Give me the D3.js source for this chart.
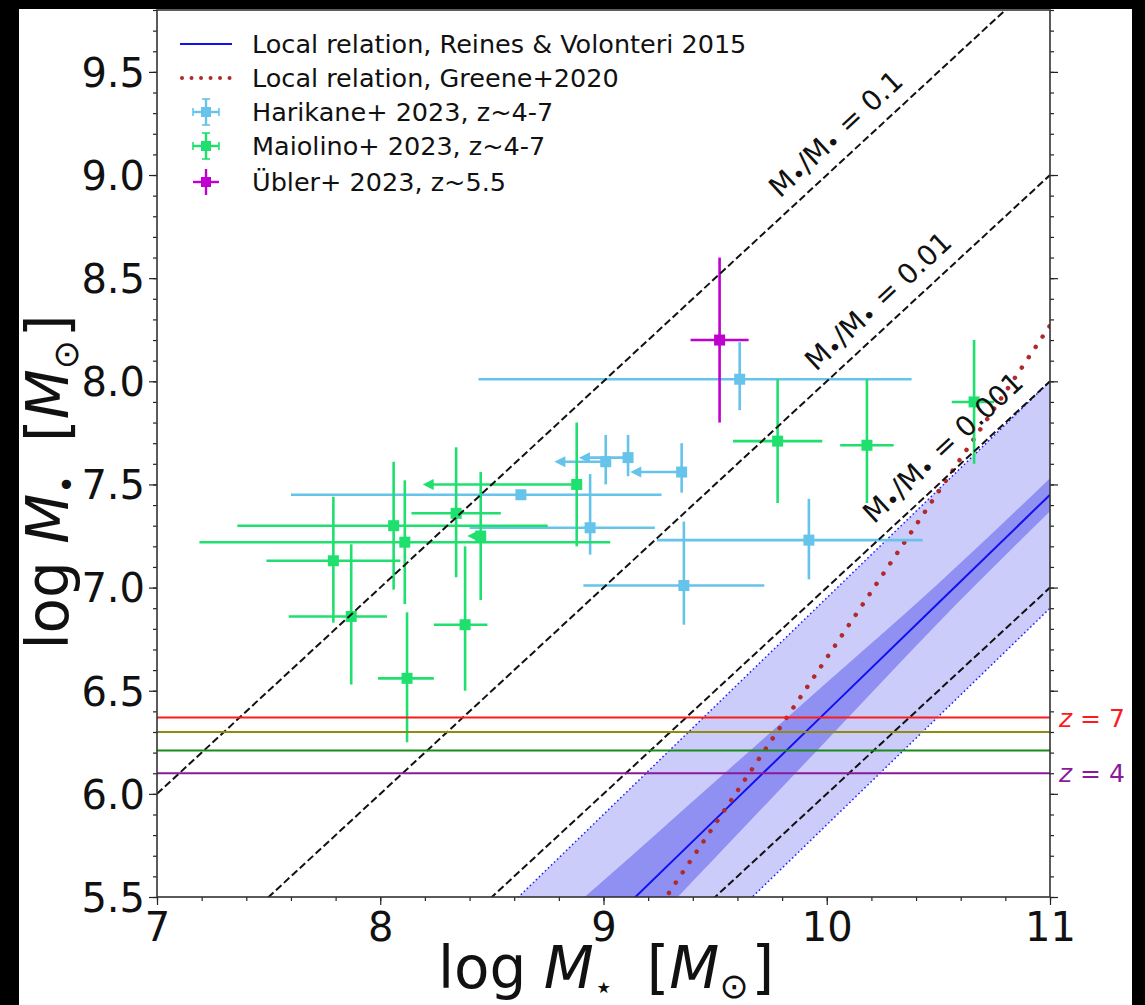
<!DOCTYPE html>
<html><head><meta charset="utf-8">
<script src="https://cdn.jsdelivr.net/npm/d3@7"></script>
<style>
html,body{margin:0;padding:0;background:#000;}
svg{display:block;}
text{font-family:"DejaVu Sans",sans-serif;fill:#111;}
</style></head><body>
<svg id="chart" width="1145" height="1005"></svg>
<script>
// ---------------- data ----------------
// Harikane+ 2023 (z~4-7)
const harikaneLogMstar = [8.63, 8.94, 9.01, 9.11, 9.35, 9.36, 9.92, 9.61];
const harikaneLogMbh   = [7.45, 7.29, 7.61, 7.63, 7.56, 7.01, 7.23, 8.01];
const harikaneMstarLow = [7.60, 8.40, 8.78, 8.89, 9.12, 8.91, 9.24, 8.44];
const harikaneMstarHigh= [9.26, 9.23, null, null, null, 9.72, 10.43, 10.38];
const harikaneMbhLow   = [7.45, 7.16, 7.50, 7.54, 7.46, 6.82, 7.04, 7.86];
const harikaneMbhHigh  = [7.45, 7.55, 7.74, 7.74, 7.70, 7.32, 7.43, 8.19];
const harikaneUpperLim = [false, false, true, true, true, false, false, false];

// Maiolino+ 2023 (z~4-7)
const maiolinoLogMstar = [8.06, 8.11, 7.79, 7.87, 8.34, 8.45, 8.88, 8.38, 8.12, 9.78, 10.18, 10.66];
const maiolinoLogMbh   = [7.30, 7.22, 7.13, 6.86, 7.36, 7.25, 7.50, 6.82, 6.56, 7.71, 7.69, 7.90];
const maiolinoMstarLow = [7.36, 7.19, 7.49, 7.59, 8.14, 8.39, 8.19, 8.24, 7.99, 9.58, 10.06, 10.56];
const maiolinoMstarHigh= [8.75, 9.03, 8.09, 8.03, 8.54, null, null, 8.48, 8.24, 9.98, 10.30, 10.75];
const maiolinoMbhLow   = [6.99, 6.92, 6.83, 6.53, 7.05, 6.94, 7.20, 6.50, 6.25, 7.41, 7.41, 7.60];
const maiolinoMbhHigh  = [7.61, 7.52, 7.44, 7.21, 7.68, 7.56, 7.80, 7.20, 6.88, 8.01, 8.01, 8.20];
const maiolinoUpperLim = [false, false, false, false, false, true, true, false, false, false, false, false];

// Übler+ 2023 (z~5.5)
const ublerLogMstar = [9.52];
const ublerLogMbh   = [8.20];
const ublerMstarLow = [9.39];
const ublerMstarHigh= [9.65];
const ublerMbhLow   = [7.80];
const ublerMbhHigh  = [8.60];
const ublerUpperLim = [false];

// Local relation, Reines & Volonteri 2015 (line, fit uncertainty band, scatter band)
const rvLogMstar   = [8.4, 9.0, 9.5, 10.0, 10.5, 11.0];
const rvLogMbh     = [4.72, 5.35, 5.875, 6.40, 6.925, 7.45];
const rvFitLow     = [4.42, 5.12, 5.69, 6.26, 6.83, 7.37];
const rvFitHigh    = [5.02, 5.58, 6.06, 6.54, 7.02, 7.53];
const rvScatterLow = [4.17, 4.80, 5.325, 5.85, 6.375, 6.90];
const rvScatterHigh= [5.27, 5.90, 6.425, 6.95, 7.475, 8.00];

// Local relation, Greene+2020
const greeneLogMstar = [9.2, 11.0];
const greeneLogMbh   = [5.37, 8.27];

// constant mass-ratio lines  M_BH/M_star
const ratioLogOffset = [-1, -2, -3, -4];
const ratioLabels    = ["0.1", "0.01", "0.001", null];
const ratioLineX     = [7, 11];

// horizontal redshift lines
const zLineLogMbh = [6.37, 6.30, 6.21, 6.10];
const zLineLabels = ["7", null, null, "4"];

// axis ticks
const xTickValues = [7, 8, 9, 10, 11];
const yTickValues = [5.5, 6.0, 6.5, 7.0, 7.5, 8.0, 8.5, 9.0, 9.5];

const legendLabels = [
  "Local relation, Reines & Volonteri 2015",
  "Local relation, Greene+2020",
  "Harikane+ 2023, z~4-7",
  "Maiolino+ 2023, z~4-7",
  "Übler+ 2023, z~5.5"
];

// ---------------- style ----------------
const C = {
  harikane: "#66c3ea",
  maiolino: "#1fe06e",
  ubler: "#bf00cf",
  rvLine: "#1010f0",
  rvDark: "#9090f3",
  rvLight: "#ccccfb",
  greene: "#b02a2a",
  zColors: ["#ff1a1a", "#8f8a10", "#1a8a1a", "#8a1a9a"]
};

const svg = d3.select("#chart");
svg.append("rect").attr("x", 19).attr("y", 9).attr("width", 1113).attr("height", 996).attr("fill", "#fff");

const x = d3.scaleLinear().domain([7, 11]).range([157, 1050]);
const y = d3.scaleLinear().domain([5.5, 9.8]).range([897, 10]);

svg.append("clipPath").attr("id", "plotclip")
  .append("rect").attr("x", 157).attr("y", 10).attr("width", 893).attr("height", 887);

const plot = svg.append("g").attr("clip-path", "url(#plotclip)");

// bands
const rvRows = rvLogMstar.map((v, i) => ({x: v, c: rvLogMbh[i], fl: rvFitLow[i], fh: rvFitHigh[i], sl: rvScatterLow[i], sh: rvScatterHigh[i]}));
plot.append("path").datum(rvRows)
  .attr("d", d3.area().x(d => x(d.x)).y0(d => y(d.sl)).y1(d => y(d.sh)))
  .attr("fill", C.rvLight);
plot.append("path").datum(rvRows)
  .attr("d", d3.area().x(d => x(d.x)).y0(d => y(d.fl)).y1(d => y(d.fh)).curve(d3.curveMonotoneX))
  .attr("fill", C.rvDark);
["sl", "sh"].forEach(k => {
  plot.append("path").datum(rvRows)
    .attr("d", d3.line().x(d => x(d.x)).y(d => y(d[k])))
    .attr("fill", "none").attr("stroke", "#2020ff").attr("stroke-width", 1.5)
    .attr("stroke-dasharray", "1.6,2.6");
});
plot.append("path").datum(rvRows)
  .attr("d", d3.line().x(d => x(d.x)).y(d => y(d.c)))
  .attr("fill", "none").attr("stroke", C.rvLine).attr("stroke-width", 2);

// Greene relation
plot.append("path").datum(greeneLogMstar.map((v, i) => [v, greeneLogMbh[i]]))
  .attr("d", d3.line().x(d => x(d[0])).y(d => y(d[1])))
  .attr("fill", "none").attr("stroke", C.greene).attr("stroke-width", 4.5)
  .attr("stroke-linecap", "round").attr("stroke-dasharray", "0.01,12.4");

// data series
function drawSeries(color, xs, ys, xlo, xhi, ylo, yhi, lim) {
  const rows = xs.map((v, i) => ({x: v, y: ys[i], xlo: xlo[i], xhi: xhi[i], ylo: ylo[i], yhi: yhi[i], lim: lim[i]}));
  const g = plot.append("g");
  g.selectAll("line.v").data(rows.filter(d => d.yhi !== d.ylo)).join("line")
    .attr("x1", d => x(d.x)).attr("x2", d => x(d.x))
    .attr("y1", d => y(d.ylo)).attr("y2", d => y(d.yhi))
    .attr("stroke", color).attr("stroke-width", 2.6);
  g.selectAll("line.h").data(rows).join("line")
    .attr("x1", d => d.lim ? x(d.xlo) + 6 : x(d.xlo))
    .attr("x2", d => d.xhi == null ? x(d.x) : x(d.xhi))
    .attr("y1", d => y(d.y)).attr("y2", d => y(d.y))
    .attr("stroke", color).attr("stroke-width", 2.6);
  g.selectAll("path.arrow").data(rows.filter(d => d.lim)).join("path")
    .attr("d", d => {
      const tx = x(d.xlo), ty = y(d.y);
      return `M${tx},${ty}L${tx + 11},${ty - 5.5}L${tx + 11},${ty + 5.5}Z`;
    })
    .attr("fill", color);
  g.selectAll("rect").data(rows).join("rect")
    .attr("x", d => x(d.x) - 5.5).attr("y", d => y(d.y) - 5.5)
    .attr("width", 11).attr("height", 11).attr("fill", color);
}
drawSeries(C.harikane, harikaneLogMstar, harikaneLogMbh, harikaneMstarLow, harikaneMstarHigh, harikaneMbhLow, harikaneMbhHigh, harikaneUpperLim);
drawSeries(C.maiolino, maiolinoLogMstar, maiolinoLogMbh, maiolinoMstarLow, maiolinoMstarHigh, maiolinoMbhLow, maiolinoMbhHigh, maiolinoUpperLim);
drawSeries(C.ubler, ublerLogMstar, ublerLogMbh, ublerMstarLow, ublerMstarHigh, ublerMbhLow, ublerMbhHigh, ublerUpperLim);

// constant ratio lines
ratioLogOffset.forEach(off => {
  plot.append("path").datum(ratioLineX.map(v => [v, v + off]))
    .attr("d", d3.line().x(d => x(d[0])).y(d => y(d[1])))
    .attr("fill", "none").attr("stroke", "#111").attr("stroke-width", 2)
    .attr("stroke-dasharray", "7.4,3.4");
});

// redshift lines
zLineLogMbh.forEach((v, i) => {
  plot.append("line").attr("x1", x(7)).attr("x2", x(11)).attr("y1", y(v)).attr("y2", y(v))
    .attr("stroke", C.zColors[i]).attr("stroke-width", 2);
});

// ratio labels (rotated along lines)
const angle = Math.atan2(y(8) - y(7), x(8) - x(7)) * 180 / Math.PI; // negative (upward slope)
const labelAt = [10.04, 10.23, 10.52];
ratioLabels.forEach((lab, i) => {
  if (!lab) return;
  const lx = labelAt[i], ly = lx + ratioLogOffset[i];
  const px = x(lx), py = y(ly) - 33;
  const t = svg.append("text")
    .attr("transform", `translate(${px},${py}) rotate(${angle})`)
    .attr("text-anchor", "middle").attr("dominant-baseline", "central")
    .attr("font-size", 28);
  t.append("tspan").text("M");
  t.append("tspan").attr("font-size", "0.8em").attr("dy", "0.22em").text("•");
  t.append("tspan").attr("dy", "-0.18em").text("/M");
  t.append("tspan").attr("font-size", "0.8em").attr("dy", "0.22em").text("•");
  t.append("tspan").attr("dy", "-0.18em").text(" = " + lab);
});

// z labels
zLineLabels.forEach((lab, i) => {
  if (!lab) return;
  const t = svg.append("text").attr("x", 1059).attr("y", y(zLineLogMbh[i]))
    .attr("dominant-baseline", "central").attr("font-size", 25).style("fill", C.zColors[i]);
  t.append("tspan").attr("font-style", "italic").text("z");
  t.append("tspan").text(" = " + lab);
});

// axes
const axFont = 40;
const gx = svg.append("g").attr("transform", "translate(0,897)")
  .call(d3.axisBottom(x).tickValues(d3.range(35, 56).map(d => d / 5)).tickSize(4).tickFormat(""));
const gx2 = svg.append("g").attr("transform", "translate(0,897)")
  .call(d3.axisBottom(x).tickValues(xTickValues).tickSize(8).tickPadding(4).tickFormat(d3.format("d")));
const gy = svg.append("g").attr("transform", "translate(157,0)")
  .call(d3.axisLeft(y).tickValues(d3.range(55, 99).map(d => d / 10)).tickSize(4).tickFormat(""));
const gy2 = svg.append("g").attr("transform", "translate(157,0)")
  .call(d3.axisLeft(y).tickValues(yTickValues).tickSize(8).tickPadding(4).tickFormat(d3.format(".1f")));
const gr = svg.append("g").attr("transform", "translate(1050,0)")
  .call(d3.axisRight(y).tickValues(d3.range(55, 99).map(d => d / 10)).tickSize(4).tickFormat(""));
const gr2 = svg.append("g").attr("transform", "translate(1050,0)")
  .call(d3.axisRight(y).tickValues(yTickValues).tickSize(8).tickFormat(""));
[gx, gx2, gy, gy2, gr, gr2].forEach(g => {
  g.select(".domain").remove();
  g.selectAll("line").attr("stroke", "#222").attr("stroke-width", 1.2);
  g.selectAll("text").attr("font-size", axFont).attr("font-family", "DejaVu Sans").style("fill", "#111");
});
gx2.selectAll("text").attr("dy", "0.8em");
gy2.selectAll("text").attr("dy", "0.36em");

// frame
svg.append("rect").attr("x", 157).attr("y", 10).attr("width", 893).attr("height", 887)
  .attr("fill", "none").attr("stroke", "#333").attr("stroke-width", 1.6);

// axis titles
function mathLabel(t, sub) {
  t.append("tspan").text("log");
  t.append("tspan").attr("dx", "0.3em").attr("font-style", "italic").text("M");
  t.append("tspan").attr("font-size", "0.55em").attr("dy", "0.3em").text(sub);
  t.append("tspan").attr("dy", "-0.165em").attr("dx", "0.25em").text(" [");
  t.append("tspan").attr("font-style", "italic").text("M");
  t.append("tspan").attr("font-size", "0.6em").attr("dy", "0.3em").text("⊙");
  t.append("tspan").attr("dy", "-0.18em").attr("dx", "0.05em").text("]");
}
const xt = svg.append("text").attr("x", 606).attr("y", 988).attr("text-anchor", "middle").attr("font-size", 58);
mathLabel(xt, "⋆");
const yt = svg.append("text").attr("transform", "translate(68,482) rotate(-90)").attr("text-anchor", "middle").attr("font-size", 58);
mathLabel(yt, "•");

// legend
const leg = svg.append("g");
const rowY = [44, 78, 112, 146, 182];
const lx0 = 180, lx1 = 232, lmid = 206, ltext = 252;
leg.append("line").attr("x1", lx0).attr("x2", lx1).attr("y1", rowY[0]).attr("y2", rowY[0])
  .attr("stroke", C.rvLine).attr("stroke-width", 2);
leg.append("line").attr("x1", lx0 + 2).attr("x2", lx1).attr("y1", rowY[1]).attr("y2", rowY[1])
  .attr("stroke", C.greene).attr("stroke-width", 4).attr("stroke-linecap", "round").attr("stroke-dasharray", "0.01,9.5");
[[C.harikane, true], [C.maiolino, true], [C.ubler, false]].forEach(([col, caps], k) => {
  const cy = rowY[k + 2];
  const g = leg.append("g");
  g.append("line").attr("x1", lmid - 13).attr("x2", lmid + 13).attr("y1", cy).attr("y2", cy).attr("stroke", col).attr("stroke-width", 2.4);
  g.append("line").attr("x1", lmid).attr("x2", lmid).attr("y1", cy - 13).attr("y2", cy + 13).attr("stroke", col).attr("stroke-width", 2.4);
  if (caps) {
    g.append("line").attr("x1", lmid - 13).attr("x2", lmid - 13).attr("y1", cy - 4).attr("y2", cy + 4).attr("stroke", col).attr("stroke-width", 1.6);
    g.append("line").attr("x1", lmid + 13).attr("x2", lmid + 13).attr("y1", cy - 4).attr("y2", cy + 4).attr("stroke", col).attr("stroke-width", 1.6);
    g.append("line").attr("x1", lmid - 4).attr("x2", lmid + 4).attr("y1", cy - 13).attr("y2", cy - 13).attr("stroke", col).attr("stroke-width", 1.6);
    g.append("line").attr("x1", lmid - 4).attr("x2", lmid + 4).attr("y1", cy + 13).attr("y2", cy + 13).attr("stroke", col).attr("stroke-width", 1.6);
  }
  g.append("rect").attr("x", lmid - 5).attr("y", cy - 5).attr("width", 10).attr("height", 10).attr("fill", col);
});
leg.selectAll("text.l").data(legendLabels).join("text")
  .attr("x", ltext).attr("y", (d, i) => rowY[i]).attr("dominant-baseline", "central")
  .attr("font-size", 25.5).text(d => d);
</script>
</body></html>
